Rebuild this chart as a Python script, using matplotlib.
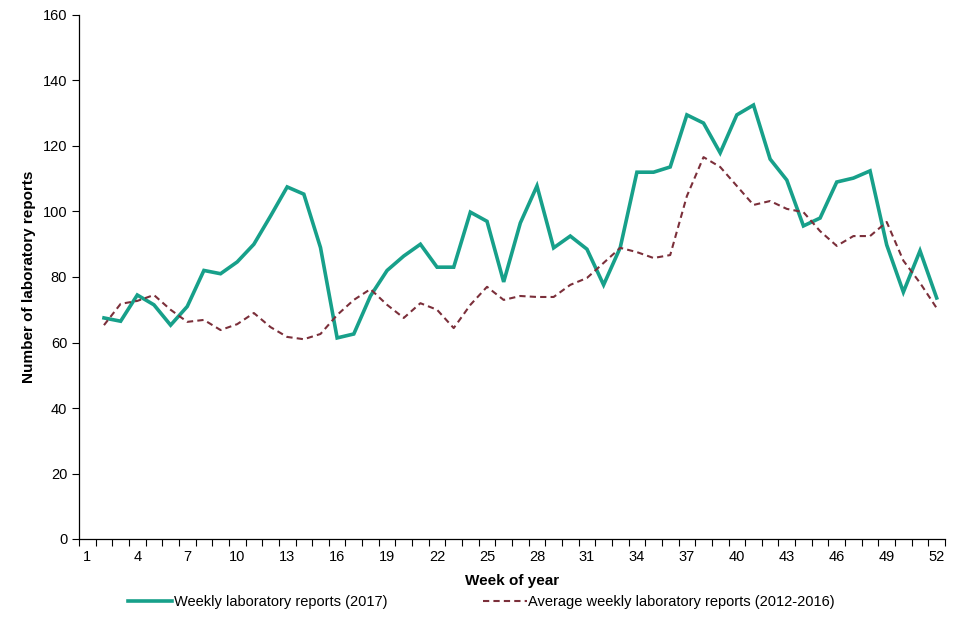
import matplotlib
matplotlib.use("Agg")
import matplotlib.pyplot as plt
from matplotlib.ticker import FixedLocator

plt.rcParams['font.family'] = ['Liberation Sans', 'DejaVu Sans']

weeks = list(range(2, 53))
reports_2017 = [67.5, 66.5, 74.5, 71.5, 65.3, 71, 82, 81, 84.6, 90, 98.6, 107.5, 105.3,
                89, 61.4, 62.6, 74.2, 82, 86.4, 90, 83, 83, 99.8, 97, 78.5, 96.5, 107.8,
                88.9, 92.5, 88.5, 77.6, 89, 112, 112, 113.6, 129.5, 127, 117.9, 129.5,
                132.5, 116, 109.6, 95.6, 98, 109, 110.2, 112.4, 89.8, 75.4, 88, 73.6]
avg_2012_2016 = [65.3, 71.8, 72.7, 74.5, 70, 66.3, 66.9, 63.8, 65.6, 69, 64.7, 61.7, 61,
                 62.6, 68.4, 73, 76.3, 71.5, 67.5, 72, 70, 64.4, 71.5, 77, 73, 74.2, 73.9,
                 73.9, 77.6, 79.7, 84.3, 88.9, 87.6, 85.8, 86.7, 104.7, 116.6, 113.6, 107.8,
                 102, 103.2, 100.8, 99.8, 94, 89.5, 92.5, 92.5, 96.8, 85, 78.2, 70.5]
tick_weeks = list(range(1, 53, 3))

fig = plt.figure(figsize=(9.6, 6.4), dpi=100)
ax = fig.add_axes([79/960, 1 - 539/640, (945-79)/960, (539-15)/640])

ax.plot(weeks, reports_2017, color='#17a08a', lw=2.6, solid_joinstyle='miter',
        label='Weekly laboratory reports (2017)')
ax.plot(weeks, avg_2012_2016, color='#7b2f3a', lw=1.5, ls=(0, (3, 2)),
        label='Average weekly laboratory reports (2012-2016)')

ax.set_xlim(0.5, 52.5)
ax.set_ylim(0, 160)
ax.set_yticks(range(0, 161, 20))
ax.set_xticks(tick_weeks)
ax.set_xticklabels([str(w) for w in tick_weeks])
ax.xaxis.set_minor_locator(FixedLocator([w + 0.5 for w in range(0, 53)]))
ax.tick_params(axis='x', which='major', length=0, pad=8, labelsize=10.5)
ax.tick_params(axis='x', which='minor', length=5, width=0.8, direction='out')
ax.tick_params(axis='y', which='major', length=5, width=0.8, direction='out', labelsize=10.5)

for s in ['top', 'right']:
    ax.spines[s].set_visible(False)
for s in ['left', 'bottom']:
    ax.spines[s].set_linewidth(0.9)

ax.set_xlabel('Week of year', fontweight='bold', fontsize=11, labelpad=7)
ax.set_ylabel('Number of laboratory reports', fontweight='bold', fontsize=11, labelpad=5)

ax.legend(loc='upper center', bbox_to_anchor=(0.465, -0.082), ncol=2, frameon=False,
          fontsize=10.5, handlelength=3, handletextpad=0.1, columnspacing=6.6)

fig.savefig('out.png', dpi=100, facecolor='white')
